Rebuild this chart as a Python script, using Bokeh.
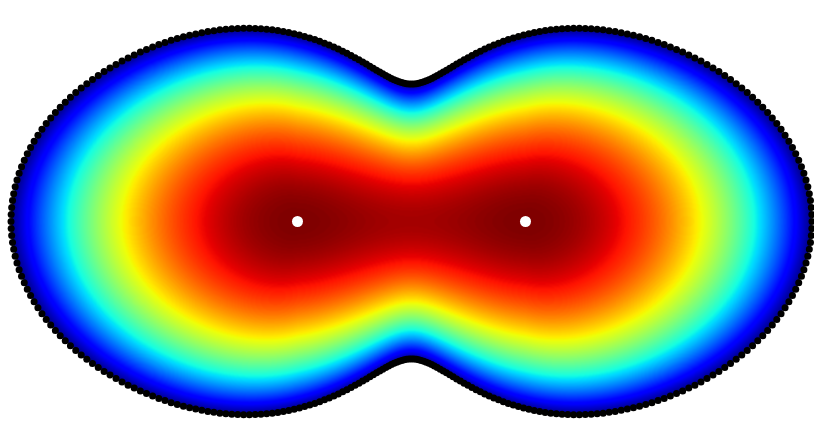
import numpy as np
from bokeh.plotting import figure
from bokeh.models import Range1d, LinearColorMapper
from bokeh.embed import file_html
from bokeh.resources import INLINE

# ---- chart values (data units, origin at the middle between the two centres) ----
centers_x = [-114.0, 114.0]
centers_y = [0.0, 0.0]
# outline in polar form about the origin: r = sum(c_k * cos(2*k*theta))
outline_coef = [270.0, 125.5, -1.0, 6.0]
outline_angles_deg = list(range(0, 360))      # one dot per degree
ridge_dip = 0.2                               # slight dip of the value between the centres
falloff_power = 2.1

# ---- jet palette ----
def jet_palette(n=256):
    t = np.linspace(0, 1, n)
    r = np.interp(t, [0, 0.35, 0.66, 0.89, 1], [0, 0, 1, 1, 0.5])
    g = np.interp(t, [0, 0.125, 0.375, 0.64, 0.91, 1], [0, 0, 1, 1, 0, 0])
    b = np.interp(t, [0, 0.11, 0.34, 0.65, 1], [0.5, 1, 1, 0, 0])
    return ["#%02x%02x%02x" % (int(round(a * 255)), int(round(c * 255)), int(round(d * 255)))
            for a, c, d in zip(r, g, b)]

def r_outline(theta):
    out = np.zeros_like(theta, dtype=float)
    for k, c in enumerate(outline_coef):
        out = out + c * np.cos(2 * k * theta)
    return out

# ---- field on a grid ----
FW, FH = 814, 436
X0, X1 = -411.0, -411.0 + FW
Y1 = 221.0
Y0 = Y1 - FH
W, H = FW, FH
xs = X0 + 0.5 + np.arange(W)
ys = Y0 + 0.5 + np.arange(H)
PX, PY = np.meshgrid(xs, ys)

cx_hi = max(centers_x)
QX = np.clip(PX, -cx_hi, cx_hi)
QY = np.zeros_like(PY)
DX, DY = PX - QX, PY - QY
dist = np.hypot(DX, DY)
safe = np.where(dist == 0, 1.0, dist)
UX, UY = DX / safe, DY / safe
UX = np.where(dist == 0, 0.0, UX)
UY = np.where(dist == 0, 1.0, UY)
lo = np.zeros_like(dist)
hi = np.full_like(dist, 600.0)
for _ in range(40):
    mid = 0.5 * (lo + hi)
    bx = QX + mid * UX
    by = QY + mid * UY
    inside = np.hypot(bx, by) < r_outline(np.arctan2(by, bx))
    lo = np.where(inside, mid, lo)
    hi = np.where(inside, hi, mid)
tb = 0.5 * (lo + hi)
rho = dist / tb
delta = np.where(np.abs(PX) < cx_hi, ridge_dip * (1 - (PX / cx_hi) ** 2), 0.0)
rho_e = np.sqrt(np.clip(rho ** 2 + delta ** 2 * (1 - rho ** 2), 0, None))
val = 1 - rho_e ** falloff_power
val = np.where(rho <= 1.0, val, np.nan)

# ---- figure ----
p = figure(width=FW, height=FH, output_backend="svg", toolbar_location=None,
           x_range=Range1d(X0, X1), y_range=Range1d(Y0, Y1), min_border=0)
p.axis.visible = False
p.grid.visible = False
p.outline_line_color = None
p.background_fill_color = "white"
p.border_fill_color = "white"

mapper = LinearColorMapper(palette=jet_palette(), low=0, high=1, nan_color=(0, 0, 0, 0))
p.image(image=[val], x=X0, y=Y0, dw=W, dh=H, color_mapper=mapper)

th = np.radians(np.array(outline_angles_deg, dtype=float))
rr = r_outline(th)
p.scatter(rr * np.cos(th), rr * np.sin(th), size=7, fill_color="black", line_color=None)
p.scatter(centers_x, centers_y, size=11, fill_color="white", line_color=None)

open("out.html", "w").write(file_html(p, INLINE))
